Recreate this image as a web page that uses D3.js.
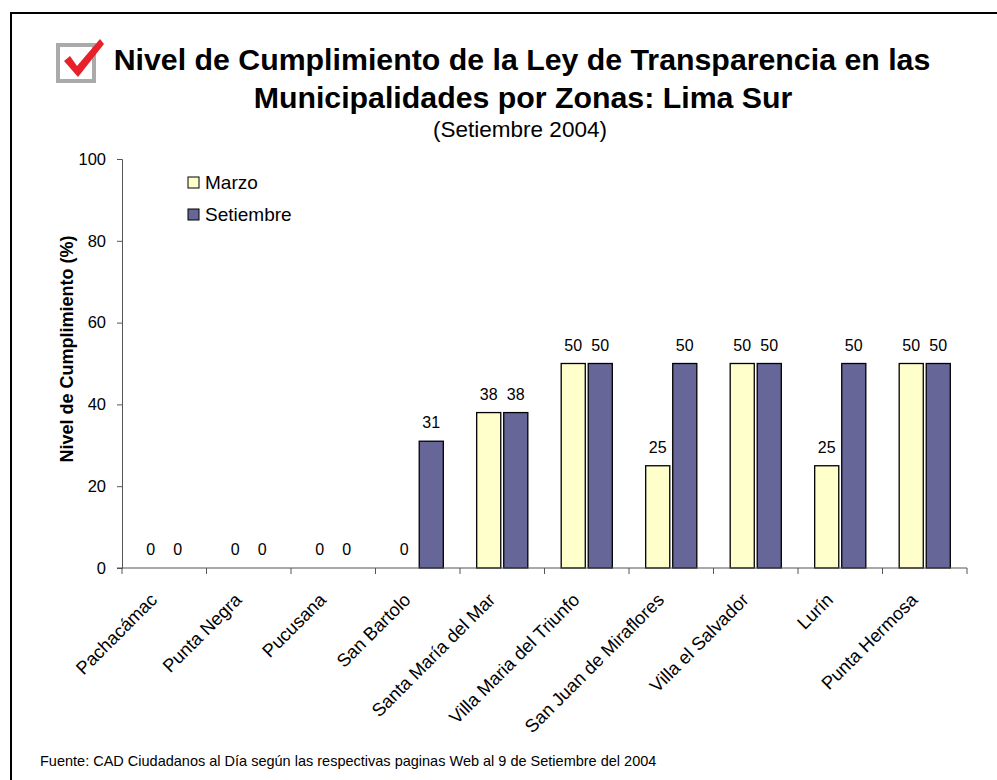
<!DOCTYPE html>
<html>
<head>
<meta charset="utf-8">
<script src="https://cdn.jsdelivr.net/npm/d3@7"></script>
<style>
  body { margin: 0; background: #fff; }
  text { font-family: Arial, "Liberation Sans", sans-serif; }
</style>
</head>
<body>
<script>
// Chart data
const categories = ["Pachacámac", "Punta Negra", "Pucusana", "San Bartolo", "Santa María del Mar",
  "Villa Maria del Triunfo", "San Juan de Miraflores", "Villa el Salvador", "Lurín", "Punta Hermosa"];
const seriesNames = ["Marzo", "Setiembre"];
const marzo = [0, 0, 0, 0, 38, 50, 25, 50, 25, 50];
const setiembre = [0, 0, 0, 31, 38, 50, 50, 50, 50, 50];
const yTicks = [0, 20, 40, 60, 80, 100];
const colors = ["#FFFFCC", "#666699"];

const width = 997, height = 780;
const margin = {left: 122, right: 30, top: 159, bottom: 212};

const svg = d3.select("body").append("svg")
    .attr("width", width)
    .attr("height", height);

// outer frame
svg.append("rect")
    .attr("x", 11).attr("y", 13)
    .attr("width", 1000).attr("height", 800)
    .attr("fill", "none").attr("stroke", "#000").attr("stroke-width", 2);

const x = d3.scaleBand()
    .domain(categories)
    .range([margin.left, 967])
    .paddingInner(0).paddingOuter(0);

const y = d3.scaleLinear()
    .domain([0, 100])
    .range([568, margin.top]);

const bw = x.bandwidth();
const barW = bw * 0.285;
const gap = bw * 0.035;

// bars
const series = [marzo, setiembre];
series.forEach(function (vals, s) {
  const offset = bw / 2 + (s === 0 ? -gap / 2 - barW : gap / 2);
  const g = svg.append("g");
  g.selectAll("rect")
    .data(vals.map(function (v, i) { return {c: categories[i], v: v}; }).filter(function (d) { return d.v > 0; }))
    .enter().append("rect")
      .attr("x", function (d) { return x(d.c) + offset; })
      .attr("y", function (d) { return y(d.v); })
      .attr("width", barW)
      .attr("height", function (d) { return y(0) - y(d.v); })
      .attr("fill", colors[s])
      .attr("stroke", "#000")
      .attr("stroke-width", 1.3);

  g.selectAll("text")
    .data(vals.map(function (v, i) { return {c: categories[i], v: v}; }))
    .enter().append("text")
      .attr("x", function (d) { return x(d.c) + offset + barW / 2; })
      .attr("y", function (d) { return y(d.v) - 13; })
      .attr("text-anchor", "middle")
      .attr("font-size", 16)
      .text(function (d) { return d.v; });
});

// y axis
const yAxis = svg.append("g")
    .attr("transform", "translate(" + margin.left + ",0)")
    .call(d3.axisLeft(y).tickValues(yTicks).tickSize(5).tickPadding(11));
yAxis.selectAll("text").attr("font-size", 16.5).attr("font-family", "Arial, 'Liberation Sans', sans-serif").attr("fill", "#000");
yAxis.selectAll("line, path").attr("stroke", "#555");

// x axis
const xAxis = svg.append("g")
    .attr("transform", "translate(0," + y(0) + ")");
xAxis.append("line")
    .attr("x1", margin.left - 5).attr("x2", 967)
    .attr("stroke", "#555");
xAxis.selectAll(".tk")
    .data(categories.concat(["end"]))
    .enter().append("line")
      .attr("x1", function (d, i) { return margin.left + i * bw; })
      .attr("x2", function (d, i) { return margin.left + i * bw; })
      .attr("y1", 0).attr("y2", 6)
      .attr("stroke", "#555");
xAxis.selectAll(".lbl")
    .data(categories)
    .enter().append("text")
      .attr("text-anchor", "end")
      .attr("font-size", 18.3)
      .attr("transform", function (d) {
        return "translate(" + (x(d) + bw / 2 - 6) + ",33) rotate(-45)";
      })
      .text(function (d) { return d; });

// y axis title
svg.append("text")
    .attr("transform", "translate(73,349) rotate(-90)")
    .attr("text-anchor", "middle")
    .attr("font-size", 18)
    .attr("font-weight", "bold")
    .text("Nivel de Cumplimiento (%)");

// legend
const legend = svg.append("g").attr("transform", "translate(188,177)");
seriesNames.forEach(function (n, i) {
  legend.append("rect")
    .attr("x", 0).attr("y", i * 32)
    .attr("width", 11).attr("height", 11)
    .attr("fill", colors[i]).attr("stroke", "#000");
  legend.append("text")
    .attr("x", 17).attr("y", i * 32 + 12)
    .attr("font-size", 19)
    .text(n);
});

// title
svg.append("text")
    .attr("x", 522).attr("y", 70)
    .attr("text-anchor", "middle")
    .attr("font-size", 30.3).attr("font-weight", "bold")
    .text("Nivel de Cumplimiento de la Ley de Transparencia en las");
svg.append("text")
    .attr("x", 523).attr("y", 108)
    .attr("text-anchor", "middle")
    .attr("font-size", 30.3).attr("font-weight", "bold")
    .text("Municipalidades por Zonas: Lima Sur");
svg.append("text")
    .attr("x", 520).attr("y", 137)
    .attr("text-anchor", "middle")
    .attr("font-size", 22.5)
    .text("(Setiembre 2004)");

// checkbox icon
const icon = svg.append("g").attr("transform", "translate(56,37)");
icon.append("rect")
    .attr("x", 2).attr("y", 8).attr("width", 36).attr("height", 36)
    .attr("fill", "#fff").attr("stroke", "#aaa").attr("stroke-width", 4);
icon.append("path")
    .attr("d", "M8,24 L14,19 L21,29 L44,2 L48,7 L22,40 Z")
    .attr("fill", "#e8202a");

// footer
svg.append("text")
    .attr("x", 40).attr("y", 766)
    .attr("font-size", 14.5)
    .text("Fuente: CAD Ciudadanos al Día según las respectivas paginas Web al 9 de Setiembre del 2004");
</script>
</body>
</html>
